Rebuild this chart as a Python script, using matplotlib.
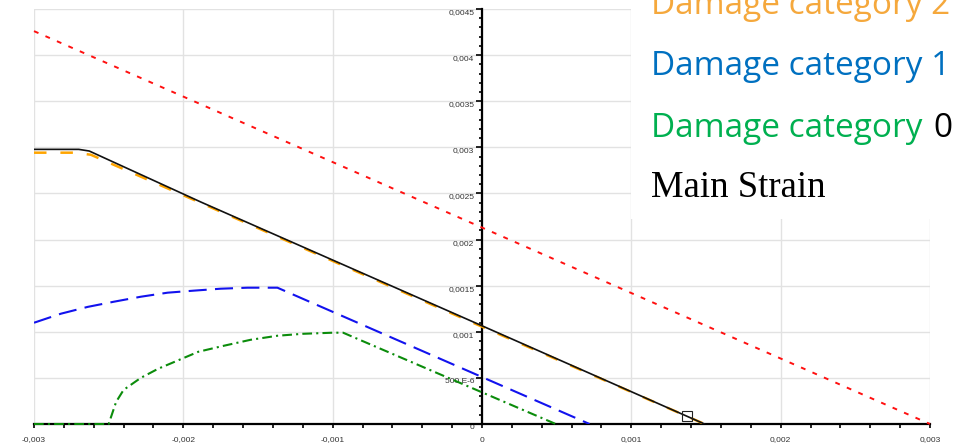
import matplotlib
matplotlib.use('Agg')
import matplotlib.pyplot as plt
from matplotlib.ticker import FixedLocator, MultipleLocator
from matplotlib.patches import Rectangle

plt.rcParams['lines.scale_dashes'] = False

# ---------------- data ----------------
x_ticks = [-0.003, -0.002, -0.001, 0.0, 0.001, 0.002, 0.003]
x_tick_labels = ['-0,003', '-0,002', '-0,001', '0', '0,001', '0,002', '0,003']
y_ticks = [0.0, 0.0005, 0.001, 0.0015, 0.002, 0.0025, 0.003, 0.0035, 0.004, 0.0045]
y_tick_labels = ['0', '500 E-6', '0,001', '0,0015', '0,002', '0,0025', '0,003',
                 '0,0035', '0,004', '0,0045']

# Main strain (black solid)
main_x = [-0.003, -0.0027, -0.00263, -0.00188, 0.0, 0.00149]
main_y = [0.002978, 0.002978, 0.00296, 0.002405, 0.001065, 0.0]

# Damage category 2 (orange dashed)
dc2_x = [-0.003, -0.00273, -0.00262, -0.00188, 0.0, 0.00149]
dc2_y = [0.002942, 0.002942, 0.00292, 0.002395, 0.001055, 0.0]

# Damage category 1 (blue dashed)
dc1_x = [-0.003, -0.00282, -0.00264, -0.002465, -0.002285, -0.002105, -0.00193,
         -0.00175, -0.00157, -0.00137, 0.00072]
dc1_y = [0.001098, 0.001196, 0.00127, 0.001326, 0.00138, 0.001424, 0.001446,
         0.001467, 0.001478, 0.001478, 0.0]

# Damage category 0 (green dash-dot)
dc0_x = [-0.003, -0.0025, -0.00245, -0.0024, -0.002285, -0.00217, -0.00198,
         -0.0019, -0.00173, -0.00155, -0.00137, -0.0012, -0.001, -0.00093, 0.000494]
dc0_y = [0.0, 0.0, 0.00024, 0.00037, 0.0005, 0.000598, 0.000728,
         0.000783, 0.000848, 0.000913, 0.000957, 0.000978, 0.00099, 0.00099, 0.0]

# Limit line (red dotted)
limit_x = [-0.003, 0.003]
limit_y = [0.00426, 0.0]

# Current point marker
marker_x = [0.00137]
marker_y = [0.00009]

legend_labels = ['Damage category 2', 'Damage category 1', 'Damage category', 'Main Strain']

# ---------------- figure ----------------
W, H = 961, 448
fig = plt.figure(figsize=(W / 100, H / 100), dpi=100)
ax = fig.add_axes([34 / W, 24 / H, 896 / W, 415 / H])
ax.set_xlim(-0.003, 0.003)
ax.set_ylim(0, 0.0045)

for s in ['top', 'right']:
    ax.spines[s].set_visible(False)
ax.spines['left'].set_position(('data', 0))
ax.spines['bottom'].set_position(('data', 0))
for s in ['left', 'bottom']:
    ax.spines[s].set_linewidth(1.6)
    ax.spines[s].set_color('black')

ax.xaxis.set_major_locator(FixedLocator(x_ticks))
ax.set_xticklabels(x_tick_labels)
ax.yaxis.set_major_locator(FixedLocator(y_ticks))
ax.set_yticklabels(y_tick_labels, va='top')
ax.xaxis.set_minor_locator(MultipleLocator(0.0002))
ax.yaxis.set_minor_locator(MultipleLocator(0.0001))

ax.tick_params(axis='x', which='both', direction='out', length=3, width=1.2,
               color='black', labelsize=6, labelcolor='#333333', pad=6,
               labelfontfamily='Liberation Sans')
ax.tick_params(axis='y', which='major', direction='out', length=4, width=1.2,
               color='black', labelsize=6, labelcolor='#333333', pad=1.5,
               labelfontfamily='Liberation Sans')
ax.tick_params(axis='y', which='minor', direction='out', length=2.5, width=1.2,
               color='black')

ax.grid(True, which='major', color='#e2e2e2', linewidth=1.0)
ax.set_axisbelow(True)

l_or, = ax.plot(dc2_x, dc2_y, color='#ffa500', lw=1.8, zorder=3)
l_or.set_dashes([9, 10])
l_bl, = ax.plot(dc1_x, dc1_y, color='#1212ee', lw=1.5, zorder=3)
l_bl.set_dashes([13, 6])
l_gr, = ax.plot(dc0_x, dc0_y, color='#0b8c0b', lw=1.5, zorder=3, clip_on=False)
l_gr.set_dashes([7, 3, 1.5, 3])
l_rd, = ax.plot(limit_x, limit_y, color='#ff1010', lw=1.4, zorder=3, clip_on=False)
l_rd.set_dashes([3.5, 5.5])
ax.plot(main_x, main_y, color='#111111', lw=1.2, zorder=4)
ax.plot(marker_x, marker_y, 's', mfc='none', mec='#222222', ms=7.2, mew=0.8, zorder=5)

# ---------------- legend overlay ----------------
fig.patches.append(Rectangle((631 / W, 1 - 219 / H), (W - 631) / W, 219 / H,
                             transform=fig.transFigure, facecolor='white',
                             edgecolor='none', zorder=5))
lx = 651 / W
sans = ['Open Sans', 'DejaVu Sans']
fs = 24
fig.text(lx, 1 - 14 / H, legend_labels[0], color='#f5a83c', fontsize=fs,
         family=sans, va='baseline', zorder=6)
fig.text(lx, 1 - 75 / H, legend_labels[1], color='#0070c0', fontsize=fs,
         family=sans, va='baseline', zorder=6)
tg = fig.text(lx, 1 - 137 / H, legend_labels[2], color='#00b050', fontsize=fs,
              family=sans, va='baseline', zorder=6)
fig.text(lx, 1 - 197 / H, legend_labels[3], color='black', fontsize=26.5,
         family=['Liberation Serif', 'DejaVu Serif'], va='baseline', zorder=6)

fig.canvas.draw()
bb = tg.get_window_extent()
fig.text((bb.x1 + 11) / W, 1 - 137 / H, '0', color='black', fontsize=fs,
         family=sans, va='baseline', zorder=6)

fig.savefig('out.png', dpi=100)
